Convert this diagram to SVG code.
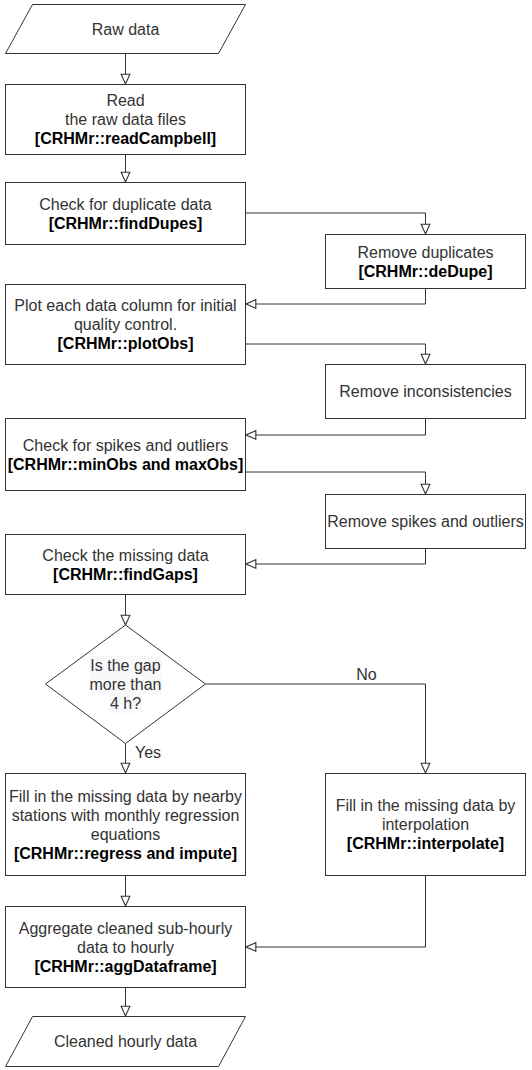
<svg xmlns="http://www.w3.org/2000/svg" width="532" height="1070" viewBox="0 0 532 1070">
<style>
.s{fill:#fff;stroke:#333;stroke-width:1}
.t{font-family:"Liberation Sans",Arial,sans-serif;font-size:16px;fill:#333;text-anchor:middle}
.b{font-weight:bold;fill:#000}
.c{fill:none;stroke:#333;stroke-width:1}
.lbl{font-family:"Liberation Sans",Arial,sans-serif;font-size:16px;fill:#333}
</style>
<defs>
<marker id="a" markerUnits="userSpaceOnUse" markerWidth="12" markerHeight="12" viewBox="-1 -1 11 10" refX="9" refY="4" orient="auto">
<path d="M0,0 L9,4 L0,8 Z" fill="#fff" stroke="#333" stroke-width="1"/>
</marker>
</defs>
<rect width="532" height="1070" fill="#fff"/>
<g id="connectors">
<path class="c" d="M125.5,53.5 V84" marker-end="url(#a)"/>
<path class="c" d="M125.5,154.5 V182" marker-end="url(#a)"/>
<path class="c" d="M245.5,213 H425.5 V234" marker-end="url(#a)"/>
<path class="c" d="M425.5,288.5 V304 H246" marker-end="url(#a)"/>
<path class="c" d="M245.5,344 H425.5 V364" marker-end="url(#a)"/>
<path class="c" d="M425.5,418.5 V435 H246" marker-end="url(#a)"/>
<path class="c" d="M245.5,472 H425.5 V494" marker-end="url(#a)"/>
<path class="c" d="M425.5,548.5 V564 H246" marker-end="url(#a)"/>
<path class="c" d="M125.5,594.5 V625" marker-end="url(#a)"/>
<path class="c" d="M125.5,743.5 V773" marker-end="url(#a)"/>
<path class="c" d="M205.5,684 H425.5 V773" marker-end="url(#a)"/>
<path class="c" d="M125.5,875.5 V906" marker-end="url(#a)"/>
<path class="c" d="M425.5,875.5 V947 H246" marker-end="url(#a)"/>
<path class="c" d="M125.5,987.5 V1016" marker-end="url(#a)"/>
<text class="lbl" x="135" y="758">Yes</text>
<text class="lbl" x="366.5" y="680" text-anchor="middle">No</text>
</g>
<g id="raw">
<polygon class="s" points="32.5,4.5 245.5,4.5 218.5,53.5 5.5,53.5"/>
<text class="t" x="125.5" y="35">Raw data</text>
</g>
<g id="read">
<rect class="s" x="5.5" y="84.5" width="240" height="70"/>
<text class="t" x="125.5" y="106">Read</text>
<text class="t" x="125.5" y="125">the raw data files</text>
<text class="t b" x="125.5" y="144">[CRHMr::readCampbell]</text>
</g>
<g id="dupes">
<rect class="s" x="5.5" y="182.5" width="240" height="62"/>
<text class="t" x="125.5" y="209.5">Check for duplicate data</text>
<text class="t b" x="125.5" y="228.5">[CRHMr::findDupes]</text>
</g>
<g id="dedupe">
<rect class="s" x="325.5" y="234.5" width="200" height="54"/>
<text class="t" x="425.5" y="257.5">Remove duplicates</text>
<text class="t b" x="425.5" y="276.5">[CRHMr::deDupe]</text>
</g>
<g id="plot">
<rect class="s" x="5.5" y="284.5" width="240" height="80"/>
<text class="t" x="125.5" y="311">Plot each data column for initial</text>
<text class="t" x="125.5" y="330">quality control.</text>
<text class="t b" x="125.5" y="349">[CRHMr::plotObs]</text>
</g>
<g id="inconsist">
<rect class="s" x="325.5" y="364.5" width="200" height="54"/>
<text class="t" x="425.5" y="397">Remove inconsistencies</text>
</g>
<g id="spikes">
<rect class="s" x="5.5" y="418.5" width="240" height="72"/>
<text class="t" x="125.5" y="450.5">Check for spikes and outliers</text>
<text class="t b" x="125.5" y="469.5">[CRHMr::minObs and maxObs]</text>
</g>
<g id="removespikes">
<rect class="s" x="325.5" y="494.5" width="200" height="54"/>
<text class="t" x="425.5" y="527">Remove spikes and outliers</text>
</g>
<g id="gaps">
<rect class="s" x="5.5" y="534.5" width="240" height="60"/>
<text class="t" x="125.5" y="560.5">Check the missing data</text>
<text class="t b" x="125.5" y="579.5">[CRHMr::findGaps]</text>
</g>
<g id="decision">
<polygon class="s" points="125.5,625 205.5,684 125.5,743.5 45.5,684" stroke="#222"/>
<rect x="89" y="656" width="73" height="19" fill="#f8f9fa"/>
<rect x="89" y="675" width="73" height="19" fill="#f8f9fa"/>
<rect x="109" y="694" width="33" height="19" fill="#f8f9fa"/>
<text class="t" x="125.5" y="671">Is the gap</text>
<text class="t" x="125.5" y="690">more than</text>
<text class="t" x="125.5" y="709">4 h?</text>
</g>
<g id="regress">
<rect class="s" x="5.5" y="773.5" width="240" height="102"/>
<text class="t" x="125.5" y="801.5">Fill in the missing data by nearby</text>
<text class="t" x="125.5" y="820.5">stations with monthly regression</text>
<text class="t" x="125.5" y="839.5">equations</text>
<text class="t b" x="125.5" y="858.5">[CRHMr::regress and impute]</text>
</g>
<g id="interp">
<rect class="s" x="325.5" y="773.5" width="200" height="102"/>
<text class="t" x="425.5" y="811">Fill in the missing data by</text>
<text class="t" x="425.5" y="830">interpolation</text>
<text class="t b" x="425.5" y="849">[CRHMr::interpolate]</text>
</g>
<g id="agg">
<rect class="s" x="5.5" y="906.5" width="240" height="81"/>
<text class="t" x="125.5" y="933.5">Aggregate cleaned sub-hourly</text>
<text class="t" x="125.5" y="952.5">data to hourly</text>
<text class="t b" x="125.5" y="971.5">[CRHMr::aggDataframe]</text>
</g>
<g id="cleaned">
<polygon class="s" points="32.5,1016.5 245.5,1016.5 218.5,1066.5 5.5,1066.5"/>
<text class="t" x="125.5" y="1047">Cleaned hourly data</text>
</g>
</svg>
